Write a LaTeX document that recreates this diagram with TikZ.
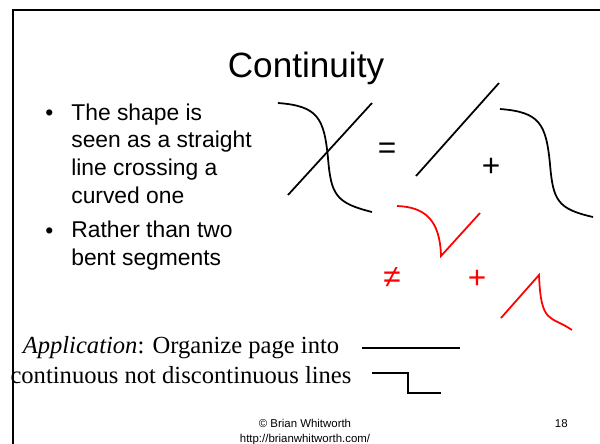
\documentclass[tikz,border=0pt]{standalone}
\usepackage{fontspec}
\setmainfont{Liberation Serif}
\setsansfont{Liberation Sans}
\usepackage{tikz}
\definecolor{slidered}{HTML}{FF0000}

\begin{document}
\begin{tikzpicture}[
    x=0.02cm,
    y=-0.02cm,
    bodytext/.style={
        font=\sffamily\fontsize{13}{15.7}\selectfont,
        inner sep=0pt,
        align=left,
        anchor=base west
    },
    sign/.style={
        font=\sffamily\fontsize{18}{18}\selectfont,
        inner sep=0pt
    },
    stroke/.style={
        line width=1pt
    },
    flatline/.style={
        line width=1.2pt
    }
]

\useasboundingbox (0,0) rectangle (600,444);

% ============================================================
% Slide frame and title
% ============================================================

\draw[line width=1.5pt] (13,444) -- (13,10) -- (600,10);

\node[font=\sffamily\fontsize{20}{24}\selectfont, inner sep=0pt, anchor=base]
    (title) at (306,77) {Continuity};

% ============================================================
% Bullet points (base anchor sits on the last line)
% ============================================================

\node[bodytext] (dotone) at (45,120) {•};
\node[bodytext] (pointone) at (71,203)
    {The shape is\\seen as a straight\\line crossing a\\curved one};

\node[bodytext] (dottwo) at (45,238) {•};
\node[bodytext] (pointtwo) at (71,265)
    {Rather than two\\bent segments};

% ============================================================
% Crossing = straight + curved
% ============================================================

\draw[stroke] (278,103) .. controls (318,106) and (324,118) .. (328,158)
    .. controls (331,195) and (336,203) .. (372,212);
\draw[stroke] (288,195) -- (372,103);

\node[sign] (equals) at (387,151) {=};

\draw[stroke] (416,176) -- (499,83);

\node[sign] (plus) at (491,167) {+};

\draw[stroke] (500,109) .. controls (540,112) and (546,124) .. (550,164)
    .. controls (553,201) and (558,209) .. (593,217);

% ============================================================
% Crossing is not two bent segments
% ============================================================

\draw[stroke, slidered] (397,206) .. controls (425,207) and (440,220) .. (441,256)
    -- (480,213);

\node[sign, text=slidered] (notequal) at (392,277) {≠};
\node[sign, text=slidered] (redplus) at (477,279) {+};

\draw[stroke, slidered] (501,318) -- (539,275)
    .. controls (541,325) and (550,315) .. (572,330);

% ============================================================
% Application
% ============================================================

\node[font=\fontsize{14}{17}\selectfont, inner sep=0pt, align=center, anchor=base]
    (application) at (181,383)
    {\textit{Application}: Organize page into\\continuous not discontinuous lines};

\draw[flatline] (362,348) -- (460,348);
\draw[flatline] (372,373) -- (408,373) -- (408,393) -- (441,393);

% ============================================================
% Footer
% ============================================================

\node[font=\sffamily\fontsize{6.5}{8.5}\selectfont, inner sep=0pt, align=center, anchor=base]
    (credit) at (305,442) {© Brian Whitworth\\http://brianwhitworth.com/};

\node[font=\sffamily\fontsize{6.5}{8.5}\selectfont, inner sep=0pt, anchor=base east]
    (pagenum) at (568,427) {18};

\end{tikzpicture}
\end{document}
